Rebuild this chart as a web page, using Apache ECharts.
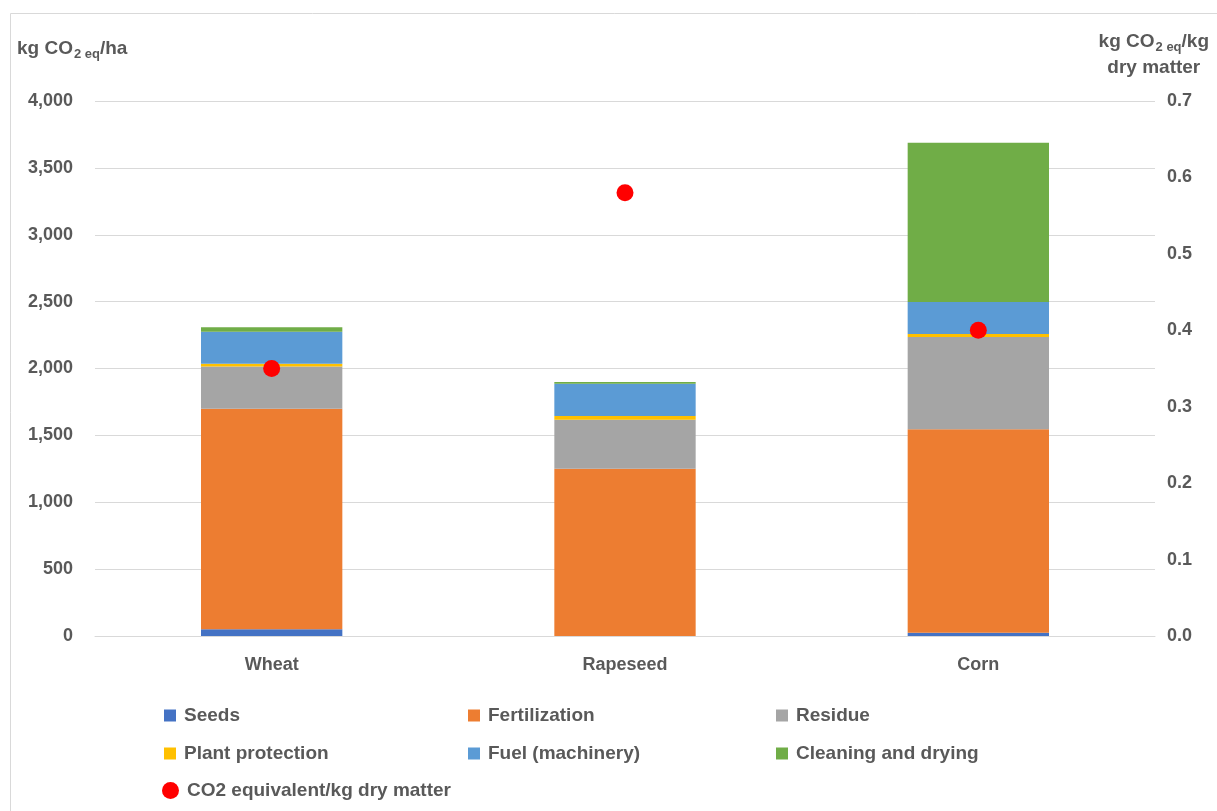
<!DOCTYPE html>
<html><head><meta charset="utf-8">
<script src="https://cdn.jsdelivr.net/npm/echarts@6/dist/echarts.min.js"></script>
<style>html,body{margin:0;padding:0;background:#fff}#c{width:1217px;height:811px}</style>
</head><body><div id="c"></div>
<script>
const categories = ['Wheat', 'Rapeseed', 'Corn'];
const seeds = [50, 0, 25];
const fertilization = [1650, 1250, 1520];
const residue = [315, 367, 690];
const plantProtection = [20, 28, 23];
const fuel = [240, 241, 240];
const cleaningDrying = [33, 13, 1190];
const co2PerKg = [0.35, 0.58, 0.40];
const leftTicks = [0, 4000, 500];
const rightTicks = [0, 0.7, 0.1];

const FONT = 'Liberation Sans';
const TXT = '#595959';
const chart = echarts.init(document.getElementById('c'));

const barSeries = [
  ['Seeds', seeds, '#4472C4'],
  ['Fertilization', fertilization, '#ED7D31'],
  ['Residue', residue, '#A5A5A5'],
  ['Plant protection', plantProtection, '#FFC000'],
  ['Fuel (machinery)', fuel, '#5B9BD5'],
  ['Cleaning and drying', cleaningDrying, '#70AD47']
].map(([name, data, color]) => ({
  name, type: 'bar', stack: 'total', data, barWidth: '40%',
  itemStyle: { color }, emphasis: { disabled: true }
}));

const legendPos = [
  ['Seeds', 164, 706, 'rect'],
  ['Fertilization', 468, 706, 'rect'],
  ['Residue', 776, 706, 'rect'],
  ['Plant protection', 164, 744, 'rect'],
  ['Fuel (machinery)', 468, 744, 'rect'],
  ['Cleaning and drying', 776, 744, 'rect'],
  ['CO2 equivalent/kg dry matter', 162, 781, 'circle']
];
const legends = legendPos.map(([name, x, y, icon]) => ({
  data: [{ name, icon }], left: x, top: y, padding: 0,
  itemWidth: icon === 'circle' ? 17 : 12, itemHeight: icon === 'circle' ? 17 : 12,
  itemGap: 0, selectedMode: false,
  textStyle: { fontFamily: FONT, fontSize: 19, fontWeight: 'bold', color: TXT, padding: [0, 0, 0, 3] }
}));

chart.setOption({
  animation: false,
  textStyle: { fontFamily: FONT },
  grid: { left: 95, right: 62, top: 101, bottom: 175, containLabel: false },
  legend: legends,
  graphic: [
    { type: 'rect', shape: { x: 10.5, y: 13.5, width: 1230, height: 830 }, style: { fill: 'none', stroke: '#d9d9d9', lineWidth: 1 }, silent: true },
    { type: 'text', left: 17, top: 39, style: {
        text: '{a|kg CO}{s|2 eq}{a|/ha}',
        rich: {
          a: { fontFamily: FONT, fontSize: 19, fontWeight: 'bold', fill: TXT },
          s: { fontFamily: FONT, fontSize: 13, fontWeight: 'bold', fill: TXT, padding: [11, 0, 0, 1] }
        } } },
    { type: 'text', right: 8, top: 30, style: {
        text: '{a|kg CO}{s|2 eq}{a|/kg}\n{b|dry matter}', align: 'center',
        rich: {
          a: { fontFamily: FONT, fontSize: 19, fontWeight: 'bold', fill: TXT, lineHeight: 26 },
          s: { fontFamily: FONT, fontSize: 13, fontWeight: 'bold', fill: TXT, padding: [11, 0, 0, 1], lineHeight: 26 },
          b: { fontFamily: FONT, fontSize: 19, fontWeight: 'bold', fill: TXT, lineHeight: 26, align: 'center' }
        } } }
  ],
  xAxis: {
    type: 'category', data: categories,
    axisLine: { lineStyle: { color: '#d9d9d9', width: 1 } },
    axisTick: { show: false },
    axisLabel: { fontFamily: FONT, fontSize: 18, fontWeight: 'bold', color: TXT, margin: 20 }
  },
  yAxis: [
    { type: 'value', min: leftTicks[0], max: leftTicks[1], interval: leftTicks[2],
      axisLine: { show: false }, axisTick: { show: false },
      splitLine: { lineStyle: { color: '#d9d9d9', width: 1 } },
      axisLabel: { fontFamily: FONT, fontSize: 18, fontWeight: 'bold', color: TXT, margin: 22,
        formatter: v => v.toLocaleString('en-US') } },
    { type: 'value', min: rightTicks[0], max: rightTicks[1], interval: rightTicks[2], position: 'right',
      axisLine: { show: false }, axisTick: { show: false }, splitLine: { show: false },
      axisLabel: { fontFamily: FONT, fontSize: 18, fontWeight: 'bold', color: TXT, margin: 12,
        formatter: v => v.toFixed(1) } }
  ],
  series: [
    ...barSeries,
    { name: 'CO2 equivalent/kg dry matter', type: 'scatter', yAxisIndex: 1, data: co2PerKg,
      symbol: 'circle', symbolSize: 17, itemStyle: { color: '#FF0000', opacity: 1 }, z: 10, emphasis: { disabled: true } }
  ]
});
</script></body></html>
